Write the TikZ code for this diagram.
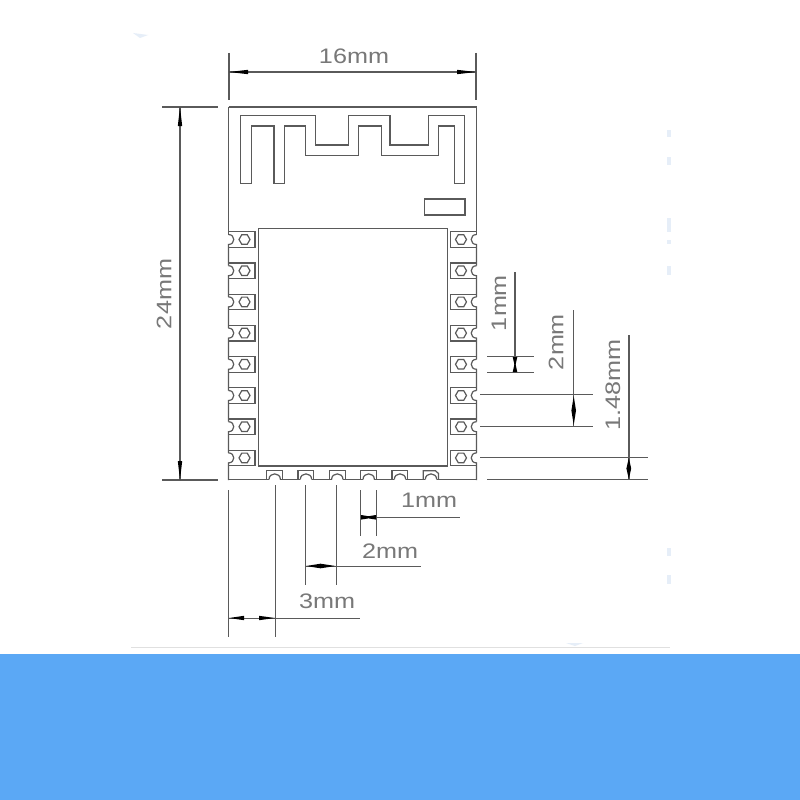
\documentclass[tikz,border=0pt]{standalone}
\usepackage{fontspec}
\setmainfont{Liberation Sans}
\definecolor{bandblue}{HTML}{5BA8F5}
\definecolor{linegray}{HTML}{5A5A5A}
\definecolor{txtgray}{HTML}{787878}
\definecolor{smudge}{HTML}{E6EEF8}
\newcommand{\dimlabel}[1]{\scalebox{1.2}[1]{#1}}
\tikzset{
  ln/.style={draw=linegray,line width=1.2pt},
  dimln/.style={draw=linegray,line width=1.2pt},
  tip/.style={fill=black,draw=none},
  dimtext/.style={text=txtgray,font=\fontsize{21}{21}\selectfont,inner sep=0pt},
}
\begin{document}
\begin{tikzpicture}[x=1pt,y=-1pt]
\useasboundingbox (0,0) rectangle (800,800);
\fill[white] (0,0) rectangle (800,800);
\fill[bandblue] (0,654) rectangle (800,800);
\draw[draw=black!12,line width=1pt] (131,647.5) -- (670,647.5);
% faint specks
\fill[smudge] (133,33) -- (148,35) -- (140,38) -- cycle;
\foreach \a/\b in {130/137,157/165,218/232,240/244,266/275,548/556,575/584}{
  \fill[smudge] (667,\a) rectangle (671,\b);
}
\fill[smudge] (566,643) -- (583,643) -- (575,646) -- cycle;
% board outline
\draw[ln] (228.5,107) -- (476.5,107);
\draw[ln] (228.5,107) -- (228.5,234.5);
\draw[ln] (476.5,107) -- (476.5,234.5);
\foreach \i in {0,...,7}{
  \pgfmathsetmacro{\yc}{239.5+31.2*\i}
  \pgfmathsetmacro{\ye}{\i<7 ? \yc+26.2 : 480}
  \draw[ln] (228.5,\yc-5) .. controls (235.5,\yc-5) and (235.5,\yc+5) .. (228.5,\yc+5) -- (228.5,\ye);
  \draw[ln] (476.5,\yc-5) .. controls (469.5,\yc-5) and (469.5,\yc+5) .. (476.5,\yc+5) -- (476.5,\ye);
}
\draw[ln] (228,479.5) -- (269,479.5);
\foreach \c in {274.7,306,337.3,368.7,400,431}{
  \draw[ln] (\c-5.7,479.5) .. controls (\c-5.7,472) and (\c+5.7,472) .. (\c+5.7,479.5);
}
\foreach \a/\b in {280.4/300.3,311.7/331.6,343/363,374.4/394.3,405.7/425.3,436.7/477}{
  \draw[ln] (\a,479.5) -- (\b,479.5);
}
% shield
\draw[ln] (258.5,228.5) rectangle (447.5,466);
% antenna
\draw[ln] (240.5,183.5) -- (240.5,115.5) -- (315.5,115.5) -- (315.5,145) -- (348.5,145) -- (348.5,115.5) -- (390,115.5) -- (390,145) -- (428.5,145) -- (428.5,115.5) -- (464.5,115.5) -- (464.5,183.5) -- (454.5,183.5) -- (454.5,126) -- (438.5,126) -- (438.5,155.5) -- (381.5,155.5) -- (381.5,126) -- (358.5,126) -- (358.5,155.5) -- (305.5,155.5) -- (305.5,126) -- (284.5,126) -- (284.5,183.5) -- (274,183.5) -- (274,126) -- (251.5,126) -- (251.5,183.5) -- cycle;
\draw[ln] (424.5,199) rectangle (465,215);
% side pads
\foreach \i in {0,...,7}{
  \pgfmathsetmacro{\yc}{239.5+31.2*\i}
  \draw[ln] (228.5,\yc-7.8) -- (255,\yc-7.8) -- (255,\yc+7.8) -- (228.5,\yc+7.8);
  \draw[ln] (476.5,\yc-7.8) -- (450.5,\yc-7.8) -- (450.5,\yc+7.8) -- (476.5,\yc+7.8);
  \draw[ln] (244.5,\yc) +(0:5.5) -- +(60:5.5) -- +(120:5.5) -- +(180:5.5) -- +(240:5.5) -- +(300:5.5) -- cycle;
  \draw[ln] (461,\yc) +(0:5.5) -- +(60:5.5) -- +(120:5.5) -- +(180:5.5) -- +(240:5.5) -- +(300:5.5) -- cycle;
}
% bottom pads
\foreach \x in {266.7,298,329.3,360.7,392}{
  \draw[ln] (\x,479.5) -- (\x,470.8) -- (\x+15.8,470.8) -- (\x+15.8,479.5);
}
\draw[ln] (423.3,479.5) -- (423.3,470.8) -- (435.5,470.8) -- (438.5,473.5) -- (438.5,479.5);
% 16mm
\draw[dimln] (229,53) -- (229,100);
\draw[dimln] (476,53) -- (476,100);
\draw[dimln] (229,72) -- (476,72);
\fill[tip] (229,72) -- (248,69.8) -- (248,74.2) -- cycle;
\fill[tip] (476,72) -- (457,69.8) -- (457,74.2) -- cycle;
\node[dimtext] (t16) at (354,56) {\dimlabel{16mm}};
% 24mm
\draw[dimln] (162,107) -- (218,107);
\draw[dimln] (162,480) -- (218,480);
\draw[dimln] (180,107) -- (180,480);
\fill[tip] (180,107) -- (177.8,126) -- (182.2,126) -- cycle;
\fill[tip] (180,480) -- (177.8,461) -- (182.2,461) -- cycle;
\node[dimtext,rotate=90] (t24) at (164,294) {\dimlabel{24mm}};
% right 1mm
\draw[dimln] (487.3,356.7) -- (534,356.7);
\draw[dimln] (487.3,372.3) -- (534,372.3);
\draw[dimln] (515,272) -- (515,372.3);
\fill[tip] (512.7,357) -- (517.3,357) -- (515.6,364.5) -- (517.3,372) -- (512.7,372) -- (514.4,364.5) -- cycle;
\node[dimtext,rotate=90] (r1) at (499,303) {\dimlabel{1mm}};
% right 2mm
\draw[dimln] (480,394.7) -- (593,394.7);
\draw[dimln] (480,426.3) -- (593,426.3);
\draw[dimln] (573.7,310) -- (573.7,426);
\fill[tip] (573.7,396) -- (576,410.5) -- (573.7,425) -- (571.4,410.5) -- cycle;
\node[dimtext,rotate=90] (r2) at (556,342) {\dimlabel{2mm}};
% right 1.48mm
\draw[dimln] (480,457.3) -- (648,457.3);
\draw[dimln] (487,479.7) -- (648,479.7);
\draw[dimln] (629,335) -- (629,479.7);
\fill[tip] (628.8,458) -- (631.2,468.5) -- (628.8,479) -- (626.4,468.5) -- cycle;
\node[dimtext,rotate=90] (r148) at (613,385) {\dimlabel{1.48mm}};
% bottom extension lines
\draw[dimln] (228.5,490) -- (228.5,636.7);
\draw[dimln] (275.5,485) -- (275.5,636.7);
\draw[dimln] (305.3,485) -- (305.3,585);
\draw[dimln] (336.3,485) -- (336.3,585);
\draw[dimln] (360.7,490) -- (360.7,536);
\draw[dimln] (376.3,490) -- (376.3,536);
% bottom 1mm
\draw[dimln] (361,517.3) -- (460,517.3);
\fill[tip] (361,515) -- (361,519.6) -- (368.5,518.4) -- (376,519.6) -- (376,515) -- (368.5,516.2) -- cycle;
\node[dimtext] (b1) at (429,500) {\dimlabel{1mm}};
% bottom 2mm
\draw[dimln] (305,566.3) -- (421,566.3);
\fill[tip] (306,566) -- (320.5,563.7) -- (335.5,566) -- (320.5,568.3) -- cycle;
\node[dimtext] (b2) at (390,551) {\dimlabel{2mm}};
% bottom 3mm
\draw[dimln] (228.5,618.3) -- (360,618.3);
\fill[tip] (229,618) -- (244,615.8) -- (244,620.2) -- cycle;
\fill[tip] (275,618) -- (259,615.8) -- (259,620.2) -- cycle;
\node[dimtext] (b3) at (327,601) {\dimlabel{3mm}};
\end{tikzpicture}
\end{document}
